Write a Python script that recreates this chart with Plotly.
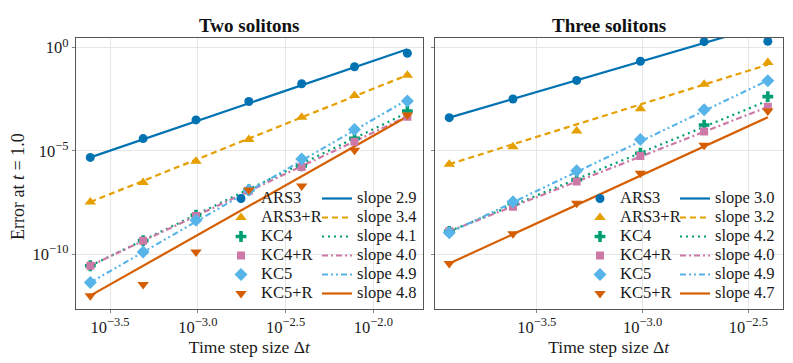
import math
import plotly.graph_objects as go

# --- data ---
methods = ["ARS3", "ARS3+R", "KC4", "KC4+R", "KC5", "KC5+R"]

dt_two = [2**-12, 2**-11, 2**-10, 2**-9, 2**-8, 2**-7, 2**-6]
err_two_ars3 = [4.9e-6, 4.0e-5, 3.2e-4, 2.5e-3, 1.8e-2, 1.2e-1, 5.4e-1]
err_two_ars3r = [3.4e-8, 3.0e-7, 3.2e-6, 3.6e-5, 4.3e-4, 4.8e-3, 4.6e-2]
err_two_kc4 = [2.8e-11, 4.6e-10, 7.9e-9, 1.3e-7, 1.9e-6, 4.1e-5, 8.7e-4]
err_two_kc4r = [2.8e-11, 4.6e-10, 7.1e-9, 1.2e-7, 1.7e-6, 2.8e-5, 4.6e-4]
err_two_kc5 = [4.3e-12, 1.3e-10, 4.5e-9, 1.3e-7, 4.1e-6, 1.1e-4, 2.6e-3]
err_two_kc5r = [1.0e-12, 3.5e-12, 1.3e-10, 1.3e-7, 2.0e-7, 1.1e-5, 5.5e-4]
slopes_two = [2.9, 3.4, 4.1, 4.0, 4.9, 4.8]

dt_three = [2**-13, 2**-12, 2**-11, 2**-10, 2**-9, 2**-8]
err_three_ars3 = [4.1e-4, 3.3e-3, 2.6e-2, 2.2e-1, 1.95, 2.04]
err_three_ars3r = [2.3e-6, 1.6e-5, 9.3e-5, 1.1e-3, 1.7e-2, 1.9e-1]
err_three_kc4 = [1.3e-9, 2.8e-8, 4.1e-7, 7.8e-6, 1.8e-4, 4.3e-3]
err_three_kc4r = [1.3e-9, 2.0e-8, 3.3e-7, 5.8e-6, 8.7e-5, 1.4e-3]
err_three_kc5 = [1.1e-9, 3.5e-8, 1.1e-6, 3.6e-5, 1.0e-3, 2.5e-2]
err_three_kc5r = [3.6e-11, 1.0e-9, 3.0e-8, 8.3e-7, 1.9e-5, 8.7e-4]
slopes_three = [3.0, 3.2, 4.2, 4.0, 4.9, 4.7]

x_ticks_two = [10**-3.5, 10**-3.0, 10**-2.5, 10**-2.0]
x_ticks_three = [10**-3.5, 10**-3.0, 10**-2.5]
y_ticks = [1e-10, 1e-5, 1e0]

# --- styles ---
colors = ["#0072B2", "#E69F00", "#009E73", "#CC79A7", "#56B4E9", "#D55E00"]
symbols = ["circle", "triangle-up", "cross", "square", "diamond", "triangle-down"]
sizes = [9, 10, 9, 8, 10, 10]
dashes = ["solid", "6px,4px", "2px,4px", "6px,3px,2px,3px", "6px,3px,2px,3px,2px,3px", "solid"]
FONT = "Liberation Serif"
INK = "#1a1a1a"


def exp_label(v, decimals):
    s = f"{math.log10(v):.{decimals}f}".replace("-", "\u2212")
    return f"10<sup><span style='font-size:12.5px'>{s}</span></sup>"


def big(txt):
    # legend rows are spaced by the legend font size; the text itself is drawn larger
    return f"<span style='font-size:16.5px'>{txt}</span>"


fig = go.Figure()

panels = [
    ("x", "y", dt_two,
     [err_two_ars3, err_two_ars3r, err_two_kc4, err_two_kc4r, err_two_kc5, err_two_kc5r],
     slopes_two, "legend", "legend2"),
    ("x2", "y2", dt_three,
     [err_three_ars3, err_three_ars3r, err_three_kc4, err_three_kc4r, err_three_kc5, err_three_kc5r],
     slopes_three, "legend3", "legend4"),
]

for xa, ya, dts, errs, slopes, leg_m, leg_l in panels:
    # reference slope lines, anchored at the smallest time step
    for i, (err, p) in enumerate(zip(errs, slopes)):
        fit = [err[0] * (d / dts[0]) ** p for d in dts]
        fig.add_trace(go.Scatter(
            x=dts, y=fit, mode="lines", xaxis=xa, yaxis=ya,
            line=dict(color=colors[i], width=2.2, dash=dashes[i]),
            name=big(f"slope {p:.1f}"), legend=leg_l, hoverinfo="skip",
        ))
    for i, err in enumerate(errs):
        fig.add_trace(go.Scatter(
            x=dts, y=err, mode="markers", xaxis=xa, yaxis=ya,
            marker=dict(color=colors[i], symbol=symbols[i], size=sizes[i], line=dict(width=0)),
            name=big(methods[i]), legend=leg_m,
        ))

axis_common = dict(
    type="log", showline=True, mirror=True, linecolor="#555555", linewidth=1.2,
    gridcolor="#e6e6e6", gridwidth=1, zeroline=False, automargin=False,
    ticks="outside", ticklen=3, tickcolor="#888888",
    tickfont=dict(family=FONT, size=16.5, color=INK),
)
xtitle = dict(text="Time step size \u0394<i>t</i>", font=dict(family=FONT, size=17.5, color=INK),
              standoff=0)

fig.update_layout(
    width=793, height=363,
    margin=dict(l=0, r=0, t=0, b=0, autoexpand=False),
    paper_bgcolor="white", plot_bgcolor="white",
    font=dict(family=FONT, color=INK),
    xaxis=dict(axis_common, domain=[0.0958, 0.5330], range=[-3.694, -1.719],
               tickvals=x_ticks_two, ticktext=[exp_label(v, 1) for v in x_ticks_two],
               title=xtitle, anchor="y"),
    yaxis=dict(axis_common, domain=[0.1488, 0.8962], range=[-12.645, 0.484],
               tickvals=y_ticks, ticktext=[exp_label(v, 0) for v in y_ticks], anchor="x"),
    xaxis2=dict(axis_common, domain=[0.5482, 0.9870], range=[-3.982, -2.338],
                tickvals=x_ticks_three, ticktext=[exp_label(v, 1) for v in x_ticks_three],
                title=xtitle, anchor="y2"),
    yaxis2=dict(axis_common, domain=[0.1488, 0.8962], range=[-12.645, 0.484],
                tickvals=y_ticks, showticklabels=False, anchor="x2"),
    showlegend=True,
)

legend_common = dict(bgcolor="rgba(0,0,0,0)", borderwidth=0, xanchor="left", yanchor="top",
                     font=dict(family=FONT, size=12.3, color=INK), tracegroupgap=0,
                     itemclick=False, itemdoubleclick=False)
fig.update_layout(
    legend=dict(legend_common, x=221 / 793, y=1 - 184 / 363),
    legend2=dict(legend_common, x=317 / 793, y=1 - 184 / 363),
    legend3=dict(legend_common, x=580 / 793, y=1 - 184 / 363),
    legend4=dict(legend_common, x=675 / 793, y=1 - 184 / 363),
)

for txt, xc in [("Two solitons", (0.0958 + 0.5330) / 2), ("Three solitons", (0.5482 + 0.9870) / 2)]:
    fig.add_annotation(text=f"<b>{txt}</b>", x=xc, y=1 - 25 / 363, xref="paper", yref="paper",
                       showarrow=False, font=dict(family=FONT, size=19, color="#111111"),
                       xanchor="center", yanchor="middle")

fig.add_annotation(text="Error at <i>t</i> = 1.0", textangle=-90, x=18 / 793, y=1 - 187 / 363,
                   xref="paper", yref="paper", showarrow=False,
                   font=dict(family=FONT, size=18, color=INK), xanchor="center", yanchor="middle")

# drop the browser's default 8px body margin so the figure sits at the page corner
fig.write_html("out.html", config={"displayModeBar": False},
               post_script="document.body.style.margin = '0px';")
